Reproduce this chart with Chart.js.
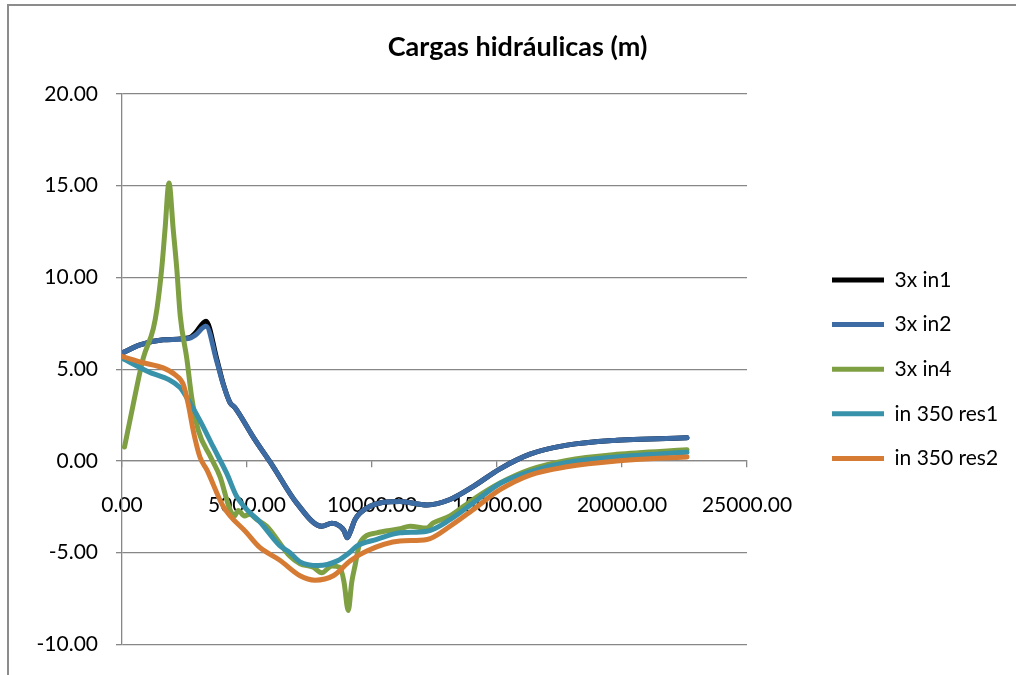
<!DOCTYPE html>
<html>
<head>
<meta charset="utf-8">
<script src="https://cdn.jsdelivr.net/npm/chart.js@4/dist/chart.umd.min.js"></script>
<style>
  html, body { margin: 0; padding: 0; background: #fff; overflow: hidden; }
  #wrap { position: relative; width: 1016px; height: 675px; }
  #frame { position: absolute; left: 7px; top: 4px; width: 1100px; height: 800px;
           border: 2px solid #8c8c8c; box-sizing: border-box; pointer-events: none; }
  canvas { position: absolute; left: 0; top: 0; }
</style>
</head>
<body>
<div id="wrap">
  <div id="frame"></div>
  <canvas id="chart1" width="1016" height="675"></canvas>
</div>
<script>
// series names, in legend order
var seriesNames = ["3x in1", "3x in2", "3x in4", "in 350 res1", "in 350 res2"];
var seriesColors = ["#000000", "#3d6ba3", "#7f9f43", "#3792aa", "#d67b33"];

// 3x in1 and 3x in2 share the same distances
var xIn12 = [0, 720, 1650, 2700, 2920, 3360, 3790, 4050, 4320, 4520, 5250, 6050, 6990, 7990, 8390, 8720, 8880, 9010, 9150, 9320, 9790, 11120, 12200, 13120, 14040, 15120, 16320, 17800, 19800, 21120, 22600];
var yIn1 = [5.88, 6.33, 6.6, 6.72, 6.95, 7.62, 5.55, 4.2, 3.18, 2.9, 1.3, -0.32, -2.3, -3.56, -3.4, -3.56, -3.8, -4.19, -3.8, -3.2, -2.57, -2.21, -2.4, -2.1, -1.4, -0.43, 0.37, 0.86, 1.13, 1.2, 1.26];
var yIn2 = [5.88, 6.33, 6.6, 6.69, 6.84, 7.34, 5.43, 4.17, 3.18, 2.9, 1.3, -0.32, -2.3, -3.56, -3.4, -3.56, -3.8, -4.19, -3.8, -3.2, -2.57, -2.21, -2.4, -2.1, -1.4, -0.43, 0.37, 0.86, 1.13, 1.2, 1.26];

var xIn4 = [100, 450, 850, 1250, 1400, 1590, 1720, 1880, 2050, 2190, 2330, 2590, 2790, 3050, 3550, 3920, 4320, 4500, 4650, 4900, 5100, 5400, 5790, 6720, 7120, 7650, 7990, 8390, 8720, 8880, 9050, 9190, 9320, 9520, 10190, 11120, 11520, 12190, 12450, 13120, 14040, 15120, 16320, 17790, 19790, 22600];
var yIn4 = [0.76, 3.09, 5.6, 7.2, 8.3, 10.5, 12.6, 15.15, 12.6, 10.5, 7.9, 5.6, 3.45, 1.67, 0.2, -0.86, -2.66, -3.0, -2.7, -3.0, -2.9, -3.2, -3.56, -5.2, -5.6, -5.8, -6.1, -5.72, -5.8, -6.6, -8.15, -6.6, -5.72, -4.46, -3.92, -3.7, -3.56, -3.66, -3.38, -3.0, -2.1, -1.2, -0.47, 0.03, 0.36, 0.61];

var xRes1 = [0, 990, 2320, 2590, 3120, 3650, 4190, 4590, 5100, 5500, 6300, 6720, 7120, 7850, 8590, 9120, 9390, 10190, 11120, 12200, 13120, 14040, 15120, 16320, 17790, 19790, 22600];
var yRes1 = [5.6, 4.9, 4.0, 3.45, 2.2, 0.76, -0.68, -1.94, -2.8, -3.3, -4.6, -5.0, -5.5, -5.7, -5.46, -4.97, -4.64, -4.28, -3.92, -3.83, -3.2, -2.3, -1.23, -0.59, -0.09, 0.22, 0.47];

var xRes2 = [0, 850, 1650, 2120, 2450, 2650, 2850, 3120, 3400, 4050, 4990, 5500, 6300, 7120, 7720, 8450, 9120, 9790, 11120, 12200, 13120, 14040, 15120, 16320, 17790, 19790, 22600];
var yRes2 = [5.7, 5.35, 5.07, 4.7, 4.17, 3.09, 1.65, 0.2, -0.5, -2.48, -3.92, -4.7, -5.4, -6.26, -6.5, -6.26, -5.45, -4.91, -4.37, -4.28, -3.56, -2.66, -1.57, -0.77, -0.32, 0.0, 0.22];

var xTicks = [0, 5000, 10000, 15000, 20000, 25000];
var yTicks = [-10, -5, 0, 5, 10, 15, 20];

var seriesX = [xIn12, xIn12, xIn4, xRes1, xRes2];
var seriesY = [yIn1, yIn2, yIn4, yRes1, yRes2];

function toPoints(xs, ys) {
    return xs.map(function(x, i) { return {x: x, y: ys[i]}; });
}

var fontSize = 21;
var legendPad = 23.6;
var legendBox = 52;
var legendItemLeft = 832;   // where the legend lines start
var padRight = 20;          // corrected once the legend has been measured
var padLeft = padRight + 19;

Chart.defaults.font.family = "Lato";
Chart.defaults.color = "#000";

var datasets = seriesNames.map(function(name, i) {
    return {
        label: name,
        data: toPoints(seriesX[i], seriesY[i]),
        borderColor: seriesColors[i],
        backgroundColor: seriesColors[i],
        borderWidth: 5,
        borderCapStyle: "round",
        borderJoinStyle: "round",
        showLine: true,
        pointRadius: 0,
        pointHoverRadius: 0,
        cubicInterpolationMode: "monotone",
        order: seriesNames.length - i
    };
});

var gridColor = "#878787";

var ctx = document.getElementById("chart1").getContext("2d");
var chart1 = new Chart(ctx, {
    type: "scatter",
    data: { datasets: datasets },
    options: {
        responsive: false,
        animation: false,
        layout: { padding: { left: padLeft, right: padRight, top: 0, bottom: 25 } },
        plugins: {
            tooltip: { enabled: false },
            title: {
                display: true,
                text: "Cargas hidráulicas (m)",
                font: { size: 27, weight: "bold" },
                color: "#000",
                padding: { top: 31, bottom: 30.6 }
            },
            legend: {
                position: "right",
                fullSize: false,
                maxWidth: 400,
                labels: {
                    usePointStyle: true,
                    pointStyle: "line",
                    pointStyleWidth: legendBox,
                    boxHeight: fontSize,
                    padding: legendPad,
                    font: { size: fontSize },
                    color: "#000",
                    sort: function(a, b) { return a.datasetIndex - b.datasetIndex; }
                }
            }
        },
        scales: {
            x: {
                type: "linear",
                position: { y: 0 },
                min: 0,
                max: 25000,
                afterBuildTicks: function(s) { s.ticks = xTicks.map(function(v) { return {value: v}; }); },
                ticks: {
                    autoSkip: false,
                    maxRotation: 0,
                    padding: 26,
                    font: { size: fontSize },
                    callback: function(v) { return Number(v).toFixed(2); }
                },
                grid: { drawOnChartArea: false, drawTicks: true, tickLength: 6, color: gridColor, lineWidth: 1.3 },
                border: { display: true, color: gridColor, width: 1.3 }
            },
            y: {
                type: "linear",
                position: "left",
                min: -10,
                max: 20,
                afterBuildTicks: function(s) { s.ticks = yTicks.map(function(v) { return {value: v}; }); },
                afterFit: function(s) { s.width = 122 - padLeft; },
                ticks: {
                    padding: 18,
                    font: { size: fontSize },
                    callback: function(v) { return Number(v).toFixed(2); }
                },
                grid: { color: gridColor, lineWidth: 1.3, tickLength: 6 },
                border: { display: true, color: gridColor, width: 1.3 }
            },
            // empty gap between the plot and the legend
            gap: {
                type: "linear",
                axis: "y",
                position: "right",
                display: true,
                grid: { display: false },
                ticks: { display: false },
                border: { display: false },
                afterFit: function(s) { s.width = 61.4; }
            }
        }
    }
});

// move the legend to its place now that its width is known
padRight += chart1.legend.left + legendPad - legendItemLeft;
padLeft = padRight + 19;
chart1.options.layout.padding = { left: padLeft, right: padRight, top: 0, bottom: 25 };
chart1.update();
</script>
</body>
</html>
